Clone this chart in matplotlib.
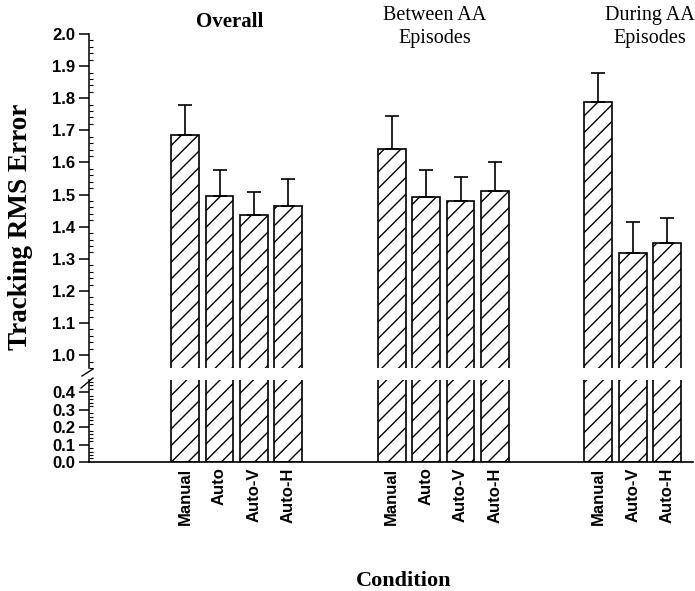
import matplotlib
matplotlib.use('Agg')
import matplotlib.pyplot as plt
from matplotlib.ticker import MultipleLocator
import numpy as np

groups = ['Overall', 'Between AA\nEpisodes', 'During AA\nEpisodes']
labels_overall = ['Manual', 'Auto', 'Auto-V', 'Auto-H']
labels_between = ['Manual', 'Auto', 'Auto-V', 'Auto-H']
labels_during = ['Manual', 'Auto-V', 'Auto-H']
mean_overall = [1.685, 1.495, 1.435, 1.465]
mean_between = [1.642, 1.492, 1.481, 1.511]
mean_during = [1.787, 1.318, 1.350]
err_overall = [0.094, 0.083, 0.072, 0.084]
err_between = [0.102, 0.083, 0.075, 0.089]
err_during = [0.090, 0.096, 0.077]

x1 = np.arange(4)
x2 = np.arange(4) + 6
x3 = np.arange(3) + 12
x = np.concatenate([x1, x2, x3])
means = mean_overall + mean_between + mean_during
errs = err_overall + err_between + err_during
labels = labels_overall + labels_between + labels_during

fig = plt.figure(figsize=(6.95, 5.91), dpi=100)
ax1 = fig.add_axes([0.1281, 0.3773, 0.8689, 0.5652])
ax2 = fig.add_axes([0.1281, 0.2183, 0.8689, 0.1387])

plt.rcParams['hatch.linewidth'] = 1.0
for ax in (ax1, ax2):
    ax.bar(x, means, width=0.81, color='white', edgecolor='black',
           linewidth=1.2, hatch='//')
    ax.set_xlim(-2.79, 14.75)
    for s in ('top', 'right'):
        ax.spines[s].set_visible(False)
    ax.spines['left'].set_linewidth(1.1)
    ax.yaxis.set_minor_locator(MultipleLocator(0.02))
    ax.tick_params(axis='y', which='major', direction='out', length=7, width=1.1, pad=3)
    ax.tick_params(axis='y', which='minor', direction='in', length=3, width=0.8)

ax1.errorbar(x, means, yerr=[np.zeros(len(errs)), errs], fmt='none',
             ecolor='black', elinewidth=1.2, capsize=4.7, capthick=1.2)
ax1.set_ylim(0.96, 2.0)
ax1.set_yticks(np.arange(1.0, 2.01, 0.1))
ax1.set_yticklabels(['%.1f' % v for v in np.arange(1.0, 2.01, 0.1)],
                    fontfamily='Liberation Sans', fontweight='bold', fontsize=12)
ax1.spines['bottom'].set_visible(False)
ax1.set_xticks([])

ax2.set_ylim(0, 0.47)
ax2.set_yticks(np.arange(0, 0.41, 0.1))
ax2.set_yticklabels(['%.1f' % v for v in np.arange(0, 0.41, 0.1)],
                    fontfamily='Liberation Sans', fontweight='bold', fontsize=12)
ax2.spines['bottom'].set_linewidth(1.2)
ax2.set_xticks(x)
ax2.set_xticklabels(labels, rotation=90, fontfamily='Liberation Sans',
                    fontweight='bold', fontsize=12, va='top')
ax2.tick_params(axis='x', length=0, pad=4)

# axis break marks
fig.add_artist(plt.Line2D([82 / 695, 93 / 695], [1 - 376 / 591, 1 - 369 / 591],
                          color='black', lw=1.0))
fig.add_artist(plt.Line2D([81 / 695, 93 / 695], [1 - 388 / 591, 1 - 378 / 591],
                          color='black', lw=1.0))

# group titles
fig.text(230 / 695, 1 - 22 / 591, groups[0], ha='center', va='center',
         fontfamily='Liberation Serif', fontweight='bold', fontsize=15)
fig.text(435 / 695, 1 - 27 / 591, groups[1], ha='center', va='center',
         fontfamily='Liberation Serif', fontsize=14.5, linespacing=1.25)
fig.text(650 / 695, 1 - 27 / 591, groups[2], ha='center', va='center',
         fontfamily='Liberation Serif', fontsize=14.5, linespacing=1.25)

fig.text(21 / 695, 1 - 227 / 591, 'Tracking RMS Error', rotation=90,
         ha='center', va='center', fontfamily='Liberation Serif',
         fontweight='bold', fontsize=19.5)
fig.text(404 / 695, 1 - 581 / 591, 'Condition', ha='center', va='center',
         fontfamily='Liberation Serif', fontweight='bold', fontsize=16)

fig.savefig('out.png', dpi=100)
